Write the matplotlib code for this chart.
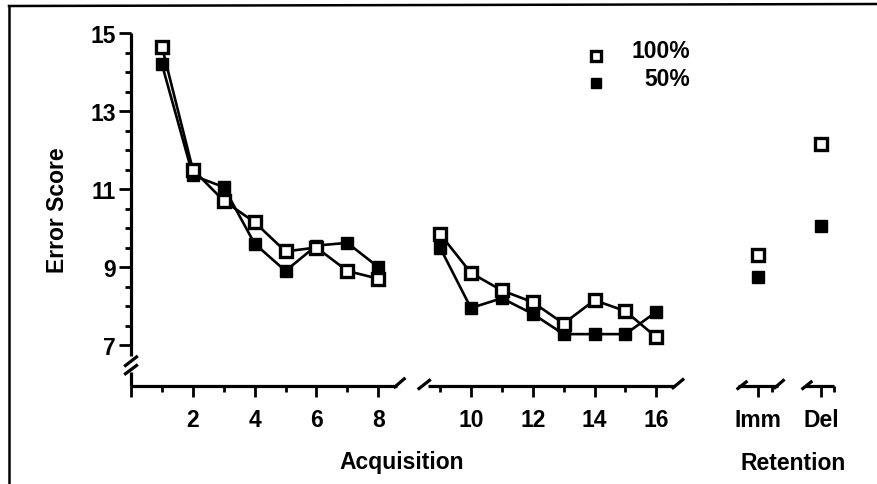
import matplotlib
matplotlib.use("Agg")
import matplotlib.pyplot as plt
from matplotlib.lines import Line2D
import numpy as np

plt.rcParams['font.family'] = ['Liberation Sans', 'DejaVu Sans']
plt.rcParams['font.weight'] = 'bold'

# acquisition trials 1-8 and 9-16, retention Imm / Del
trials_a = [1, 2, 3, 4, 5, 6, 7, 8]
trials_b = [9, 10, 11, 12, 13, 14, 15, 16]
full_a = [14.65, 11.5, 10.7, 10.15, 9.4, 9.5, 8.9, 8.7]
half_a = [14.2, 11.35, 11.05, 9.6, 8.9, 9.55, 9.62, 9.0]
full_b = [9.85, 8.85, 8.4, 8.1, 7.55, 8.15, 7.87, 7.2]
half_b = [9.5, 7.95, 8.2, 7.8, 7.28, 7.28, 7.28, 7.85]
ret_labels = ['Imm', 'Del']
full_ret = [9.32, 12.15]
half_ret = [8.74, 10.05]

# plot positions: second block shifted by one unit for the break
pos_a = np.array(trials_a, dtype=float)
pos_b = np.array(trials_b, dtype=float) + 1
pos_ret = np.array([20.3, 22.33])

fs = 16.5

fig = plt.figure(figsize=(8.77, 4.85), dpi=100)
ax = fig.add_axes([131/877, 98/485, 742/877, 353/485])
ax.set_xlim(0, 742/30.9)
ax.set_ylim(5.95, 15)
for s in ax.spines.values():
    s.set_visible(False)

lw = 1.9
ms = 9
open_kw = dict(marker='s', ms=ms, mfc='white', mec='black', mew=2.4, color='black', lw=lw)
fill_kw = dict(marker='s', ms=ms, mfc='black', mec='black', mew=1, color='black', lw=lw)

ax.plot(pos_a, half_a, zorder=3, **fill_kw)
ax.plot(pos_b, half_b, zorder=3, **fill_kw)
ax.plot(pos_a, full_a, zorder=4, **open_kw)
ax.plot(pos_b, full_b, zorder=4, **open_kw)
ax.plot(pos_ret, half_ret, ls='none', zorder=3, **fill_kw)
ax.plot(pos_ret, full_ret, ls='none', zorder=4, **open_kw)

# axis lines with breaks (data units: 1 px ~ 0.0324 in x, 0.0256 in y)
ak = dict(color='black', lw=2.3, clip_on=False, solid_capstyle='butt', zorder=2)
y0 = 5.95
ax.plot([0, 0], [6.72, 15], **ak)
ax.plot([0, 0], [5.95, 6.3], **ak)
ax.plot([-0.22, 0.22], [6.45, 6.72], **ak)
ax.plot([-0.22, 0.22], [6.24, 6.5], **ak)
ax.plot([0, 8.6], [y0, y0], **ak)
ax.plot([8.5, 8.88], [5.9, 6.16], **ak)
ax.plot([9.6, 17.6], [y0, y0], **ak)
ax.plot([9.28, 9.7], [5.86, 6.12], **ak)
ax.plot([17.5, 17.9], [5.88, 6.14], **ak)
ax.plot([19.65, 20.95], [y0, y0], **ak)
ax.plot([19.6, 19.95], [5.86, 6.08], **ak)
ax.plot([20.8, 21.15], [5.88, 6.12], **ak)
ax.plot([21.8, 22.75], [y0, y0], **ak)
ax.plot([21.7, 22.05], [5.86, 6.08], **ak)

ax.set_yticks([7, 9, 11, 13, 15])
ax.set_yticks(np.arange(7, 15.01, 0.5), minor=True)
ax.tick_params(axis='y', which='major', length=9, width=2, pad=2, labelsize=fs)
ax.tick_params(axis='y', which='minor', length=4, width=2)

xt = [0, 2, 4, 6, 8, 11, 13, 15, 17, 20.3, 22.33]
xl = ['', '2', '4', '6', '8', '10', '12', '14', '16'] + ret_labels
ax.set_xticks(xt)
ax.set_xticklabels(xl)
ax.set_xticks([1, 3, 5, 7, 10, 12, 14, 16, 20.75, 22.75], minor=True)
ax.tick_params(axis='x', which='major', length=8, width=2, pad=8, labelsize=fs)
ax.tick_params(axis='x', which='minor', length=4, width=2)
for t in ax.get_xticklabels() + ax.get_yticklabels():
    t.set_fontweight('bold')

# legend
fig.add_artist(Line2D([596/877], [1-57/485], marker='s', ms=7, mfc='white', mec='black', mew=2.4, ls='none'))
fig.add_artist(Line2D([596/877], [1-84/485], marker='s', ms=7, mfc='black', mec='black', ls='none'))
fig.text(690/877, 1-52/485, '100%', ha='right', va='center', fontsize=fs, fontweight='bold')
fig.text(690/877, 1-80/485, '50%', ha='right', va='center', fontsize=fs, fontweight='bold')

fig.text(58/877, 1-210/485, 'Error Score', rotation=90, ha='center', va='center', fontsize=fs, fontweight='bold')
fig.text(402/877, 1-463/485, 'Acquisition', ha='center', va='center', fontsize=fs, fontweight='bold')
fig.text(793/877, 1-463/485, 'Retention', ha='center', va='center', fontsize=fs, fontweight='bold')

# scanned border: left and top edges
fig.add_artist(Line2D([9/877, 9/877], [0, 1-7/485], color='black', lw=1.8))
fig.add_artist(Line2D([9/877, 1], [1-7/485, 1-5/485], color='black', lw=1.8))

fig.savefig('out.png', dpi=100)
